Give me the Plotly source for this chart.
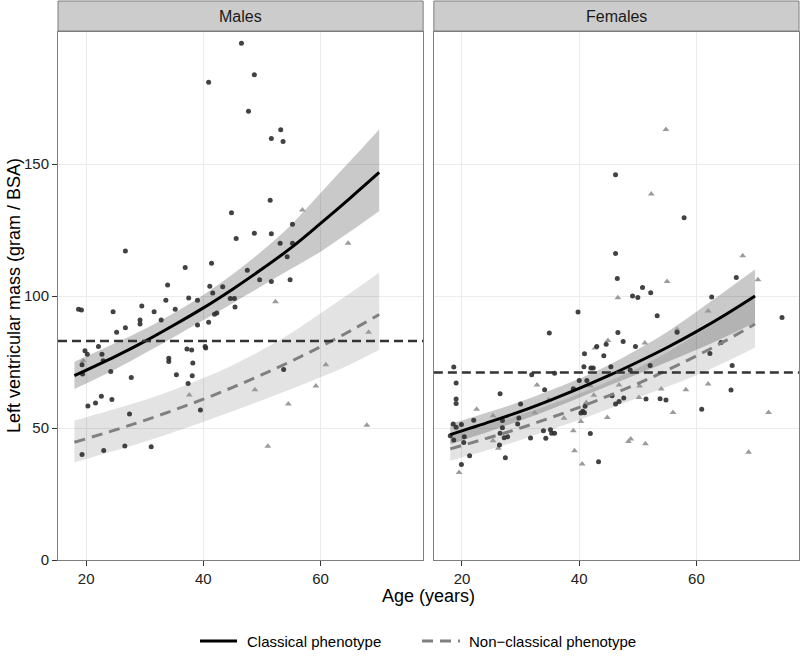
import plotly.graph_objects as go

# ---------------- data ----------------
# Males, classical phenotype (circles)
m_cls_age = [46.5, 48.7, 40.9, 47.7, 53.2, 51.6, 53.6, 51.4, 44.8, 48.7, 51.6, 55.2, 45.6, 53.1, 55.2, 54.3,
             26.7, 41.4, 36.9, 47.5, 49.6, 51.6, 54.8, 33.9, 41.1, 43.3, 41.6, 37.5, 33.6, 39.0, 44.6, 45.3,
             29.5, 45.4, 35.2, 18.7, 19.2, 24.6, 31.6, 42.3, 41.9, 29.2, 29.2, 32.8, 40.9, 39.0, 26.7, 25.2,
             22.1, 19.8, 20.2, 22.7, 22.9, 19.3, 19.4, 24.2, 27.7, 37.2, 38.0, 40.3, 40.4, 34.1, 34.1, 38.2,
             35.4, 38.1, 37.4, 53.7, 20.3, 21.6, 22.6, 24.4, 27.4, 39.5, 19.3, 23.0, 26.6, 31.1]
m_cls_lvm = [195.7, 183.8, 181.0, 170.0, 163.0, 159.7, 158.5, 136.3, 131.5, 123.8, 123.6, 127.2, 121.8, 120.0, 120.0, 114.9,
             117.0, 112.4, 110.8, 109.8, 106.2, 105.5, 106.2, 104.2, 103.7, 103.5, 101.1, 99.2, 98.4, 98.4, 99.1, 99.1,
             96.2, 95.8, 95.0, 95.0, 94.7, 94.0, 94.0, 93.6, 93.1, 90.9, 89.4, 90.9, 90.1, 89.0, 88.0, 86.3,
             80.9, 79.3, 77.9, 77.9, 75.5, 74.0, 70.5, 71.4, 69.1, 79.9, 79.5, 80.9, 80.3, 76.4, 75.2, 74.6,
             70.2, 69.8, 66.9, 72.2, 58.3, 59.5, 62.0, 60.8, 55.3, 56.8, 40.0, 41.5, 43.2, 42.9]
# Males, non-classical phenotype (triangles)
m_non_age = [56.9, 64.7, 52.3, 68.2, 60.9, 59.2, 48.8, 19.5, 37.6, 54.5, 67.9, 51.0]
m_non_lvm = [132.6, 120.0, 97.8, 86.3, 74.0, 65.9, 64.5, 75.5, 62.5, 59.1, 51.0, 43.1]

# Females, classical phenotype (circles)
f_cls_age = [46.2, 57.9, 46.2, 46.5, 66.8, 50.8, 49.1, 50.0, 52.2, 62.6, 39.8, 74.6, 53.3, 34.9, 56.7, 46.6,
             47.5, 49.6, 64.2, 43.0, 44.6, 40.9, 44.2, 62.3, 40.8, 42.0, 42.4, 45.4, 52.1, 66.1, 18.6, 48.7,
             31.9, 35.8, 19.0, 40.0, 34.1, 65.9, 19.0, 19.0, 26.5, 30.0, 22.0, 18.5, 19.9, 18.0, 18.6, 19.0,
             20.4, 20.3, 26.9, 26.9, 26.5, 29.5, 29.7, 26.4, 27.2, 27.8, 27.4, 21.3, 19.9, 31.7, 33.9, 34.3,
             35.1, 35.3, 35.8, 39.0, 40.3, 40.6, 40.9, 41.0, 41.9, 43.3, 45.6, 46.2, 46.8, 47.6, 51.4, 53.8,
             54.8, 60.9, 41.3]
f_cls_lvm = [145.9, 129.6, 116.1, 106.6, 107.0, 103.2, 100.0, 99.4, 101.2, 99.6, 93.9, 91.9, 92.5, 86.0, 86.3, 86.2,
             82.8, 80.9, 82.4, 80.9, 81.7, 78.1, 77.4, 78.2, 73.2, 72.7, 72.7, 73.2, 73.7, 73.7, 73.1, 72.0,
             70.2, 70.7, 67.0, 68.0, 64.5, 64.4, 61.0, 59.3, 63.0, 59.1, 52.9, 51.5, 51.3, 47.1, 45.5, 50.3,
             46.7, 44.5, 52.8, 50.1, 48.0, 51.5, 53.8, 43.6, 46.3, 46.7, 38.7, 39.5, 36.2, 46.2, 49.0, 46.1,
             49.3, 48.0, 48.0, 64.9, 55.7, 56.3, 55.8, 58.2, 47.9, 37.2, 62.2, 59.1, 60.0, 61.4, 61.0, 61.1,
             60.6, 57.1, 68.0]
# Females, non-classical phenotype (triangles)
f_non_age = [54.8, 52.3, 67.9, 70.5, 55.0, 46.6, 62.0, 56.7, 44.9, 51.2, 42.7, 32.8, 46.8, 50.3, 62.0, 54.0,
             58.2, 22.5, 25.3, 32.4, 25.3, 26.2, 19.5, 34.8, 37.4, 39.0, 39.2, 40.3, 40.5, 41.2, 42.5, 44.8,
             48.4, 48.8, 50.2, 51.3, 56.0, 68.9, 72.3, 41.9]
f_non_lvm = [163.1, 138.6, 115.2, 106.2, 105.5, 99.3, 94.3, 87.3, 83.1, 82.2, 80.3, 66.3, 66.3, 65.9, 66.7, 64.8,
             64.5, 57.1, 54.6, 55.8, 45.2, 42.3, 33.1, 60.7, 53.7, 49.0, 41.4, 52.5, 36.4, 59.7, 62.4, 54.0,
             44.9, 45.8, 61.6, 44.0, 55.9, 40.8, 55.9, 66.0]

# fitted curves and confidence bands
fit_age = [18, 25, 30, 35, 40, 45, 50, 55, 60, 65, 70]
m_cls_fit = [69.8, 77.1, 82.8, 89.0, 95.5, 102.6, 110.2, 118.3, 127.5, 137.0, 146.8]
m_cls_lo = [64.8, 72.3, 78.3, 84.5, 90.8, 97.3, 103.8, 110.3, 116.8, 124.3, 132.2]
m_cls_hi = [75.1, 82.2, 87.5, 93.6, 100.4, 108.2, 117.0, 127.0, 139.0, 151.0, 163.1]
m_non_fit = [44.6, 49.3, 52.9, 56.8, 60.9, 65.4, 70.2, 75.3, 80.8, 86.7, 93.0]
m_non_lo = [37.0, 41.5, 44.8, 48.5, 52.3, 56.3, 60.5, 64.8, 69.2, 74.0, 79.6]
m_non_hi = [52.8, 57.3, 60.6, 64.5, 68.9, 73.8, 79.5, 86.0, 93.5, 101.0, 108.9]
f_cls_fit = [47.5, 52.5, 56.3, 60.5, 65.0, 69.8, 75.0, 80.5, 86.5, 93.0, 100.0]
f_cls_lo = [43.8, 49.0, 52.8, 57.0, 61.5, 66.0, 70.5, 75.0, 79.6, 84.6, 90.0]
f_cls_hi = [51.5, 56.3, 60.0, 64.2, 68.7, 73.8, 79.8, 86.4, 94.0, 102.0, 110.0]
f_non_fit = [42.1, 46.6, 50.0, 53.8, 57.8, 62.2, 66.8, 71.9, 77.3, 83.1, 89.4]
f_non_lo = [37.6, 42.0, 45.5, 49.2, 53.0, 57.2, 61.4, 65.6, 70.0, 75.0, 80.5]
f_non_hi = [47.1, 51.7, 55.0, 58.8, 63.0, 67.6, 72.7, 78.6, 85.4, 92.5, 100.0]

ref_lvm = {"Males": 83, "Females": 71}
panels = ["Males", "Females"]
y_ticks = [0, 50, 100, 150]
x_ticks = [20, 40, 60]
legend_labels = ["Classical phenotype", "Non\u2212classical phenotype"]

# ---------------- figure ----------------
FONT = "Liberation Sans, Arial, Helvetica, sans-serif"
W, H = 800, 662
ML, MT = 58, 32
PW, PH = 741, 528
MR = W - ML - PW
MB = H - MT - PH

CLS_BAND = "rgba(0,0,0,0.21)"
NON_BAND = "rgba(0,0,0,0.11)"
CIRCLE_C = "rgba(45,45,45,0.9)"
TRI_C = "rgba(150,150,150,0.95)"

fig = go.Figure()

sets = [
    ("x", "y", m_cls_age, m_cls_lvm, m_non_age, m_non_lvm,
     m_cls_fit, m_cls_lo, m_cls_hi, m_non_fit, m_non_lo, m_non_hi),
    ("x2", "y2", f_cls_age, f_cls_lvm, f_non_age, f_non_lvm,
     f_cls_fit, f_cls_lo, f_cls_hi, f_non_fit, f_non_lo, f_non_hi),
]

for xa, ya, ca, cl, na, nl, cf, clo, chi, nf, nlo, nhi in sets:
    for lo, hi, col in [(nlo, nhi, NON_BAND), (clo, chi, CLS_BAND)]:
        fig.add_trace(go.Scatter(x=fit_age, y=lo, xaxis=xa, yaxis=ya, mode="lines",
                                 line=dict(width=0, shape="spline"), hoverinfo="skip",
                                 showlegend=False))
        fig.add_trace(go.Scatter(x=fit_age, y=hi, xaxis=xa, yaxis=ya, mode="lines",
                                 line=dict(width=0, shape="spline"), fill="tonexty",
                                 fillcolor=col, hoverinfo="skip", showlegend=False))
    fig.add_trace(go.Scatter(x=na, y=nl, xaxis=xa, yaxis=ya, mode="markers",
                             marker=dict(symbol="triangle-up", size=6, color=TRI_C, line=dict(width=0)),
                             showlegend=False))
    fig.add_trace(go.Scatter(x=ca, y=cl, xaxis=xa, yaxis=ya, mode="markers",
                             marker=dict(symbol="circle", size=5, color=CIRCLE_C, line=dict(width=0)),
                             showlegend=False))
    fig.add_trace(go.Scatter(x=fit_age, y=nf, xaxis=xa, yaxis=ya, mode="lines",
                             line=dict(color="#808080", width=3, dash="11px,7px", shape="spline"),
                             showlegend=False))
    fig.add_trace(go.Scatter(x=fit_age, y=cf, xaxis=xa, yaxis=ya, mode="lines",
                             line=dict(color="black", width=3, shape="spline"),
                             showlegend=False))

gap = 10.7
panel_w = (PW - gap) / 2
dom1 = [0, panel_w / PW]
dom2 = [(panel_w + gap) / PW, 1]

axis_common = dict(range=[15.2, 77.5], tickvals=x_ticks, ticks="outside", ticklen=5,
                   tickcolor="#333333", tickwidth=1, showgrid=True, gridcolor="#EBEBEB",
                   gridwidth=1, zeroline=False, showline=True, mirror=True,
                   linecolor="#7F7F7F", linewidth=1, automargin=False,
                   tickfont=dict(family=FONT, size=15, color="#222222"))
yaxis_common = dict(range=[0, 200], tickvals=y_ticks, showgrid=True, gridcolor="#EBEBEB",
                    gridwidth=1, zeroline=False, showline=True, mirror=True,
                    linecolor="#7F7F7F", linewidth=1, domain=[0, 1], automargin=False)

fig.update_layout(
    width=W, height=H,
    margin=dict(l=ML, r=MR, t=MT, b=MB, pad=0),
    paper_bgcolor="white", plot_bgcolor="white",
    showlegend=False,
    xaxis=dict(domain=dom1, anchor="y", **axis_common),
    xaxis2=dict(domain=dom2, anchor="y2", **axis_common),
    yaxis=dict(anchor="x", ticks="outside", ticklen=5, tickcolor="#333333", tickwidth=1,
               tickfont=dict(family=FONT, size=15, color="#222222"), **yaxis_common),
    yaxis2=dict(anchor="x2", showticklabels=False, ticks="", **yaxis_common),
    font=dict(family=FONT),
)

shapes = []
annotations = []
strip_h = 31 / PH
for p, xa, ya in zip(panels, ["x", "x2"], ["y", "y2"]):
    shapes.append(dict(type="rect", xref=f"{xa} domain", yref="paper", x0=0, x1=1,
                       y0=1.0 + 1.0 / PH, y1=1 + strip_h, fillcolor="#CCCCCC",
                       line=dict(color="#7F7F7F", width=1), layer="above"))
    annotations.append(dict(text=p, xref=f"{xa} domain", yref="paper", x=0.5,
                            y=1 + strip_h / 2 + 0.5 / PH, xanchor="center", yanchor="middle",
                            showarrow=False, font=dict(family=FONT, size=16, color="#1a1a1a")))
    shapes.append(dict(type="line", xref=f"{xa} domain", yref=ya, x0=0, x1=1,
                       y0=ref_lvm[p], y1=ref_lvm[p], layer="above",
                       line=dict(color="#333333", width=2.5, dash="9px,5px")))

# helpers converting page pixels to paper coordinates
px = lambda v: (v - ML) / PW
py = lambda v: 1 - (v - MT) / PH

annotations.append(dict(text="Age (years)", xref="paper", yref="paper",
                        x=px(428), y=py(596), xanchor="center", yanchor="middle",
                        showarrow=False, font=dict(family=FONT, size=18, color="black")))
annotations.append(dict(text="Left ventricular mass (gram / BSA)", xref="paper", yref="paper",
                        x=px(14), y=0.5, xanchor="center", yanchor="middle",
                        textangle=-90, showarrow=False,
                        font=dict(family=FONT, size=18, color="black")))

# legend (drawn manually, ggplot style)
ly = py(641)
shapes.append(dict(type="line", xref="paper", yref="paper", x0=px(200), x1=px(237),
                   y0=ly, y1=ly, line=dict(color="black", width=3)))
shapes.append(dict(type="line", xref="paper", yref="paper", x0=px(422), x1=px(460),
                   y0=ly, y1=ly, line=dict(color="#808080", width=3, dash="11px,7px")))
annotations.append(dict(text=legend_labels[0], xref="paper", yref="paper", x=px(245), y=ly,
                        xanchor="left", yanchor="middle", showarrow=False,
                        font=dict(family=FONT, size=15, color="black")))
annotations.append(dict(text=legend_labels[1], xref="paper", yref="paper", x=px(467), y=ly,
                        xanchor="left", yanchor="middle", showarrow=False,
                        font=dict(family=FONT, size=15, color="black")))

fig.update_layout(shapes=shapes, annotations=annotations)
fig.write_html("out.html", config={"displayModeBar": False},
               post_script="document.body.style.margin='0';")
